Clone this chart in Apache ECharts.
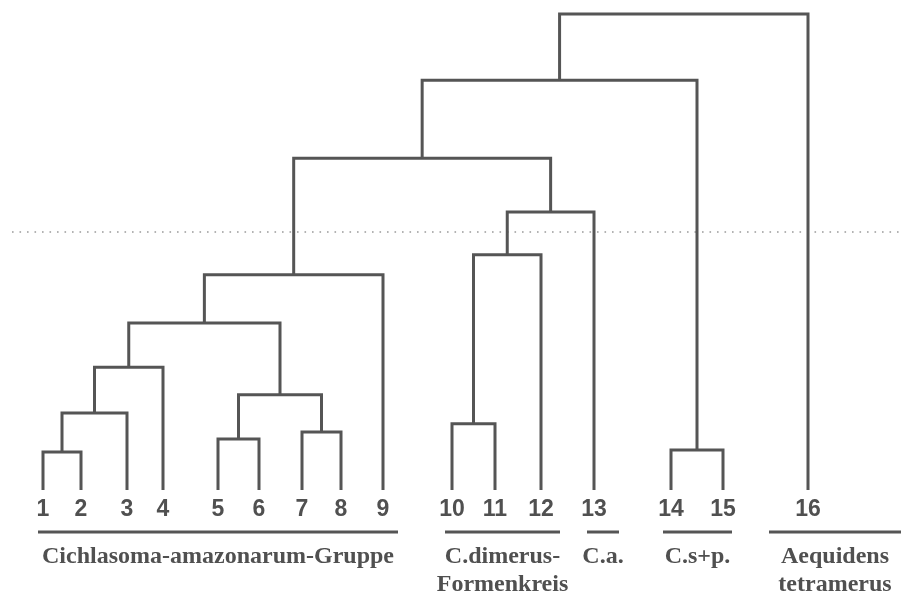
<!DOCTYPE html>
<html><head><meta charset="utf-8">
<script src="https://cdn.jsdelivr.net/npm/echarts@6/dist/echarts.min.js"></script>
<style>html,body{margin:0;padding:0;background:#fff}#c{width:901px;height:594px}</style>
</head><body><div id="c"></div>
<script>
// Leaves (taxa numbers) and their horizontal positions along the x axis
const leafLabels = ['1','2','3','4','5','6','7','8','9','10','11','12','13','14','15','16'];
const leafPos = [43, 81, 127, 163, 218, 259, 302, 341, 383, 452, 495, 541, 594, 671, 723, 808];

// Merge steps: [left node, right node, linkage distance]; leaves are 0..15, merges create nodes 16, 17, ...
const mergeLeft   = [0, 16, 17, 4, 6, 19, 18, 22, 9, 24, 25, 23, 13, 27, 29];
const mergeRight  = [1,  2,  3, 5, 7, 20, 21,  8, 10, 11, 12, 26, 14, 28, 15];
const mergeHeight = [8.0, 16.2, 25.8, 10.7, 12.2, 20.0, 35.1, 45.2, 13.9, 49.4, 58.4, 69.7, 8.4, 86.1, 100];

// Dotted cut level
const cutHeight = 54.2;
const cutRange = [12, 901];

// Groups under the leaves
const groupLine1 = ['Cichlasoma-amazonarum-Gruppe', 'C.dimerus-', 'C.a.', 'C.s+p.', 'Aequidens'];
const groupLine2 = ['', 'Formenkreis', '', '', 'tetramerus'];
const groupFrom = [38, 445, 587, 663, 769];
const groupTo   = [398, 560, 619, 732, 901];

// ---- build node positions ----
const nodeX = leafPos.slice();
const nodeY = leafPos.map(() => 0);
const linkData = [];
for (let i = 0; i < mergeLeft.length; i++) {
  const l = mergeLeft[i], r = mergeRight[i], h = mergeHeight[i];
  linkData.push([nodeX[l], nodeY[l], nodeX[r], nodeY[r], h]);
  nodeX.push((nodeX[l] + nodeX[r]) / 2);
  nodeY.push(h);
}
const leafData = leafPos.map((x, i) => [x, 0, i]);
const groupData = groupFrom.map((f, i) => [f, 0, groupTo[i], i]);

const LINE = '#555';
const TEXT = '#505050';
const chart = echarts.init(document.getElementById('c'));
chart.setOption({
  animation: false,
  backgroundColor: '#fff',
  grid: { left: 0, right: 0, top: 14, bottom: 104 },
  xAxis: { type: 'value', min: 0, max: 901, show: false },
  yAxis: { type: 'value', min: 0, max: 100, show: false },
  series: [
    {
      type: 'line', silent: true, symbol: 'none', z: 1,
      data: [[cutRange[0], cutHeight], [cutRange[1], cutHeight]],
      lineStyle: { color: '#9a9a9a', width: 1.6, type: [1.6, 5.9] }
    },
    {
      type: 'custom', silent: true, clip: false, z: 2,
      data: linkData,
      renderItem: (params, api) => {
        const a = api.coord([api.value(0), api.value(1)]);
        const b = api.coord([api.value(0), api.value(4)]);
        const c = api.coord([api.value(2), api.value(4)]);
        const d = api.coord([api.value(2), api.value(3)]);
        return { type: 'polyline', shape: { points: [a, b, c, d] },
          style: { stroke: LINE, lineWidth: 3, fill: null, lineJoin: 'miter', lineCap: 'butt' } };
      }
    },
    {
      type: 'custom', silent: true, clip: false, z: 3,
      data: leafData,
      renderItem: (params, api) => {
        const p = api.coord([api.value(0), api.value(1)]);
        return { type: 'text', x: p[0], y: p[1] + 20,
          style: { text: leafLabels[api.value(2)], fill: TEXT,
            font: 'bold 23px "Liberation Sans"', align: 'center', verticalAlign: 'middle' } };
      }
    },
    {
      type: 'custom', silent: true, clip: false, z: 3,
      data: groupData,
      renderItem: (params, api) => {
        const p1 = api.coord([api.value(0), api.value(1)]);
        const p2 = api.coord([api.value(2), api.value(1)]);
        const i = api.value(3);
        const cx = (p1[0] + p2[0]) / 2;
        const yLine = p1[1] + 42;
        const font = 'bold 24px "Liberation Serif"';
        const children = [
          { type: 'line', shape: { x1: p1[0], y1: yLine, x2: p2[0], y2: yLine },
            style: { stroke: LINE, lineWidth: 3 } },
          { type: 'text', x: cx, y: yLine + 25,
            style: { text: groupLine1[i], fill: TEXT, font, align: 'center', verticalAlign: 'middle' } }
        ];
        if (groupLine2[i]) children.push({ type: 'text', x: cx, y: yLine + 53,
            style: { text: groupLine2[i], fill: TEXT, font, align: 'center', verticalAlign: 'middle' } });
        return { type: 'group', children };
      }
    }
  ]
});
</script></body></html>
